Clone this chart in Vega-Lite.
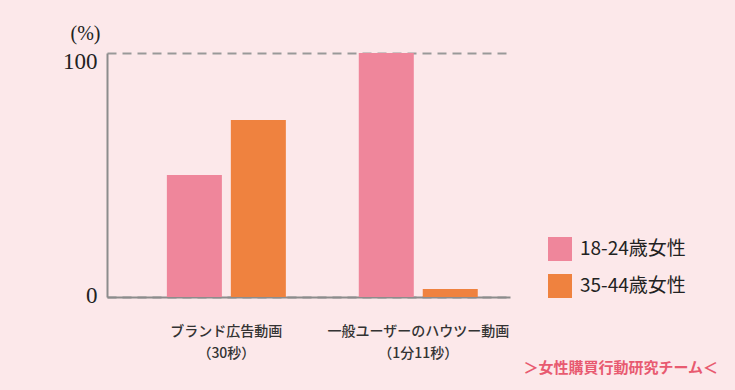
{
  "$schema": "https://vega.github.io/schema/vega-lite/v6.json",
  "autosize": "none",
  "width": 403,
  "height": 244,
  "padding": {"left": 107, "top": 53, "right": 225, "bottom": 93},
  "background": "#fce8ea",
  "title": {
    "text": "＞女性購買行動研究チーム＜",
    "orient": "bottom",
    "anchor": "end",
    "frame": "group",
    "font": "Noto Sans CJK JP",
    "fontSize": 15,
    "fontWeight": "bold",
    "color": "#e85a70",
    "offset": 0,
    "dy": 1,
    "dx": 208
  },
  "data": {
    "values": [
      {"video": "ブランド広告動画|（30秒）", "group": "18-24歳女性", "value": 50},
      {"video": "ブランド広告動画|（30秒）", "group": "35-44歳女性", "value": 72.5},
      {"video": "一般ユーザーのハウツー動画|（1分11秒）", "group": "18-24歳女性", "value": 100},
      {"video": "一般ユーザーのハウツー動画|（1分11秒）", "group": "35-44歳女性", "value": 3.3}
    ]
  },
  "mark": {"type": "bar"},
  "encoding": {
    "x": {
      "field": "video",
      "type": "nominal",
      "sort": null,
      "scale": {"paddingInner": 0.38, "paddingOuter": 0.24, "align": 0.65},
      "axis": {
        "title": null,
        "labelAngle": 0,
        "labelExpr": "split(datum.value, '|')",
        "labelFont": "Noto Sans CJK JP",
        "labelFontSize": 14,
        "labelFontWeight": 500,
        "labelColor": "#333333",
        "labelLineHeight": 22,
        "labelPadding": 27,
        "labelLimit": 0,
        "ticks": false,
        "domainColor": "#8c8c8c",
        "domainWidth": 2
      }
    },
    "xOffset": {
      "field": "group",
      "type": "nominal",
      "scale": {"paddingInner": 0.14, "paddingOuter": 0}
    },
    "y": {
      "field": "value",
      "type": "quantitative",
      "scale": {"domain": [0, 100]},
      "axis": {
        "title": "(%)",
        "titleAngle": 0,
        "titleFont": "Liberation Serif",
        "titleFontSize": 20,
        "titleFontWeight": "normal",
        "titleColor": "#222222",
        "titleX": -37,
        "titleY": -10,
        "titleAlign": "left",
        "values": [0, 100],
        "labelFont": "Liberation Serif",
        "labelFontSize": 23,
        "labelColor": "#222222",
        "labelPadding": 10,
        "labelOffset": {"condition": {"test": "datum.value == 100", "value": 8}, "value": -2},
        "ticks": false,
        "domainColor": "#8c8c8c",
        "domainWidth": 2,
        "grid": true,
        "gridColor": "#999999",
        "gridWidth": 2,
        "gridDash": [9, 6]
      }
    },
    "color": {
      "field": "group",
      "type": "nominal",
      "scale": {"range": ["#ef869b", "#ef823f"]},
      "legend": {
        "title": null,
        "orient": "none",
        "legendX": 441,
        "legendY": 184,
        "symbolType": "square",
        "symbolSize": 576,
        "symbolStrokeWidth": 0,
        "symbolOpacity": 1,
        "labelFont": "Noto Sans CJK JP",
        "labelFontSize": 19,
        "labelColor": "#222222",
        "labelOffset": 8,
        "rowPadding": 13,
        "padding": 0
      }
    }
  },
  "config": {"view": {"stroke": null}}
}
